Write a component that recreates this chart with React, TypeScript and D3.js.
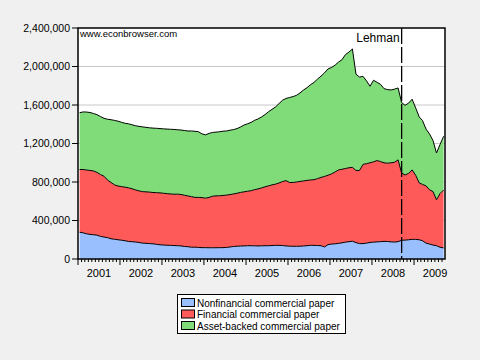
import React, { useEffect, useRef } from 'react';
import * as d3 from 'd3';

// monthly readings, thousands of millions of dollars, Jan 2001 .. Sep 2009
const nonfinancial = [
  278, 272, 262, 256, 252, 248, 235, 228, 222, 210, 205, 200,
  195, 190, 182, 180, 176, 172, 165, 163, 160, 158, 152, 148,
  145, 143, 142, 140, 138, 136, 130, 128, 122, 123, 120, 118,
  118, 117, 117, 117, 118, 118, 120, 125, 130, 133, 135, 136,
  138, 138, 137, 136, 137, 138, 138, 140, 142, 142, 140, 136,
  133, 132, 132, 133, 135, 138, 142, 142, 140, 138, 125, 150,
  155, 158, 162, 168, 175, 180, 185, 170, 160, 160, 165, 172,
  175, 178, 180, 183, 182, 178, 176, 180, 195, 196, 200, 204,
  204, 200, 190, 165, 155, 145, 138, 122, 115,
];
const financial = [
  652, 658, 663, 664, 663, 652, 643, 632, 598, 585, 565, 558,
  557, 556, 558, 550, 542, 536, 535, 535, 535, 533, 537, 539,
  538, 536, 534, 533, 536, 534, 533, 527, 526, 517, 520, 520,
  514, 523, 535, 539, 539, 542, 544, 544, 546, 550, 557, 562,
  566, 572, 583, 592, 601, 612, 622, 630, 636, 648, 665, 678,
  662, 663, 668, 673, 676, 679, 679, 682, 695, 710, 733, 720,
  730, 747, 763, 764, 765, 768, 767, 750, 760, 823, 825, 828,
  835, 845, 832, 817, 813, 822, 829, 850, 698, 677, 690, 722,
  666, 590, 585, 595, 565, 555, 477, 558, 602,
];
const assetBacked = [
  590, 598, 602, 602, 597, 600, 602, 602, 632, 652, 670, 674,
  668, 664, 665, 665, 667, 670, 673, 670, 668, 669, 669, 668,
  669, 671, 672, 673, 669, 670, 672, 675, 682, 687, 682, 662,
  658, 665, 663, 662, 665, 668, 666, 669, 669, 672, 680, 694,
  701, 710, 720, 727, 737, 750, 770, 785, 802, 825, 845, 854,
  883, 893, 900, 919, 944, 963, 989, 1011, 1035, 1052, 1077, 1105,
  1105, 1110, 1120, 1138, 1183, 1202, 1230, 1000, 970, 915, 860, 795,
  847, 812, 803, 770, 765, 756, 760, 747, 732, 724, 730, 734,
  700, 685, 665, 590, 580, 530, 486, 510, 558,
];

const seriesNames = [
  'Nonfinancial commercial paper',
  'Financial commercial paper',
  'Asset-backed commercial paper',
];
const seriesKeys = ['nonfin', 'fin', 'abcp'];
const colors = ['#99bfff', '#ff5a5a', '#80dc78'];
const yTicks = [0, 400000, 800000, 1200000, 1600000, 2000000, 2400000];
const years = [2001, 2002, 2003, 2004, 2005, 2006, 2007, 2008, 2009];
const lehmanDate = new Date(2008, 8, 15);

const W = 480;
const H = 360;
const plot = { left: 78, top: 28, right: 445, bottom: 259 };

const App: React.FC = () => {
  const svgRef = useRef<SVGSVGElement | null>(null);

  useEffect(() => {
    if (!svgRef.current) return;
    const svg = d3.select(svgRef.current);
    svg.selectAll('*').remove();

    const rows = nonfinancial.map((v, i) => ({
      date: new Date(2001, i, 15),
      nonfin: v * 1000,
      fin: financial[i] * 1000,
      abcp: assetBacked[i] * 1000,
    }));

    const x = d3
      .scaleTime()
      .domain([new Date(2001, 0, 1), new Date(2009, 8, 27)])
      .range([plot.left, plot.right]);
    const y = d3.scaleLinear().domain([0, 2400000]).range([plot.bottom, plot.top]);

    svg.append('rect').attr('width', W).attr('height', H).attr('fill', '#f0f0f0');
    svg
      .append('rect')
      .attr('x', plot.left)
      .attr('y', plot.top)
      .attr('width', plot.right - plot.left)
      .attr('height', plot.bottom - plot.top)
      .attr('fill', '#fff');

    // grid
    svg
      .append('g')
      .selectAll('line')
      .data(yTicks.slice(1, -1))
      .enter()
      .append('line')
      .attr('x1', plot.left)
      .attr('x2', plot.right)
      .attr('y1', (d) => y(d))
      .attr('y2', (d) => y(d))
      .attr('stroke', '#c8c8c8')
      .attr('stroke-width', 1);

    const stack = d3.stack<any>().keys(seriesKeys);
    const layers = stack(rows);

    const area = d3
      .area<any>()
      .x((d) => x(d.data.date))
      .y0((d) => y(d[0]))
      .y1((d) => y(d[1]));
    const topLine = d3
      .line<any>()
      .x((d) => x(d.data.date))
      .y((d) => y(d[1]));

    svg
      .append('g')
      .selectAll('path')
      .data(layers)
      .enter()
      .append('path')
      .attr('fill', (_d, i) => colors[i])
      .attr('d', area as any);

    svg
      .append('g')
      .selectAll('path')
      .data(layers)
      .enter()
      .append('path')
      .attr('fill', 'none')
      .attr('stroke', '#000')
      .attr('stroke-width', 1)
      .attr('d', topLine as any);

    // lehman
    svg
      .append('line')
      .attr('x1', x(lehmanDate))
      .attr('x2', x(lehmanDate))
      .attr('y1', plot.top)
      .attr('y2', plot.bottom)
      .attr('stroke', '#000')
      .attr('stroke-width', 1.3)
      .attr('stroke-dasharray', '16,3');
    svg
      .append('text')
      .attr('x', x(lehmanDate) - 2)
      .attr('y', 42)
      .attr('text-anchor', 'end')
      .attr('font-size', 12)
      .text('Lehman');

    svg
      .append('text')
      .attr('x', plot.left + 2)
      .attr('y', 37)
      .attr('font-size', 9.5)
      .text('www.econbrowser.com');

    // frame
    svg
      .append('rect')
      .attr('x', plot.left)
      .attr('y', plot.top)
      .attr('width', plot.right - plot.left)
      .attr('height', plot.bottom - plot.top)
      .attr('fill', 'none')
      .attr('stroke', '#000')
      .attr('stroke-width', 1.5);

    // y axis
    const yAxis = svg.append('g');
    yAxis
      .selectAll('line')
      .data(yTicks)
      .enter()
      .append('line')
      .attr('x1', plot.left - 6)
      .attr('x2', plot.left)
      .attr('y1', (d) => y(d))
      .attr('y2', (d) => y(d))
      .attr('stroke', '#000');
    yAxis
      .selectAll('text')
      .data(yTicks)
      .enter()
      .append('text')
      .attr('x', plot.left - 8)
      .attr('y', (d) => y(d))
      .attr('dy', '0.35em')
      .attr('text-anchor', 'end')
      .attr('font-size', 10.5)
      .text((d) => d3.format(',')(d));

    // x axis
    const xAxis = svg.append('g');
    const months = d3.timeMonth.range(new Date(2001, 0, 1), new Date(2009, 9, 1));
    xAxis
      .selectAll('line')
      .data(months)
      .enter()
      .append('line')
      .attr('x1', (d) => x(d))
      .attr('x2', (d) => x(d))
      .attr('y1', plot.bottom)
      .attr('y2', (d) => plot.bottom + (d.getMonth() === 0 ? 6 : 3))
      .attr('stroke', '#000');
    xAxis
      .selectAll('text')
      .data(years)
      .enter()
      .append('text')
      .attr('x', (d) => (x(new Date(d, 0, 1)) + x(new Date(d + 1, 0, 1))) / 2)
      .attr('y', 277)
      .attr('text-anchor', 'middle')
      .attr('font-size', 11)
      .text((d) => String(d));

    // legend
    const legend = svg.append('g');
    legend
      .append('rect')
      .attr('x', 177.5)
      .attr('y', 294.5)
      .attr('width', 168)
      .attr('height', 39)
      .attr('fill', '#fff')
      .attr('stroke', '#000');
    const items = legend
      .selectAll('.legend')
      .data(seriesNames)
      .enter()
      .append('g')
      .attr('class', 'legend')
      .attr('transform', (_d, i) => `translate(0,${i * 11.5})`);
    items
      .append('rect')
      .attr('x', 181.5)
      .attr('y', 298.5)
      .attr('width', 13)
      .attr('height', 8)
      .attr('fill', (_d, i) => colors[i])
      .attr('stroke', '#000');
    items
      .append('text')
      .attr('x', 197)
      .attr('y', 306.5)
      .attr('font-size', 10)
      .text((d) => d);
  }, []);

  return (
    <svg
      ref={svgRef}
      width={W}
      height={H}
      viewBox={`0 0 ${W} ${H}`}
      style={{ position: 'absolute', left: 0, top: 0, fontFamily: '"Liberation Sans", Arial, sans-serif' }}
    ></svg>
  );
};

export default App;
